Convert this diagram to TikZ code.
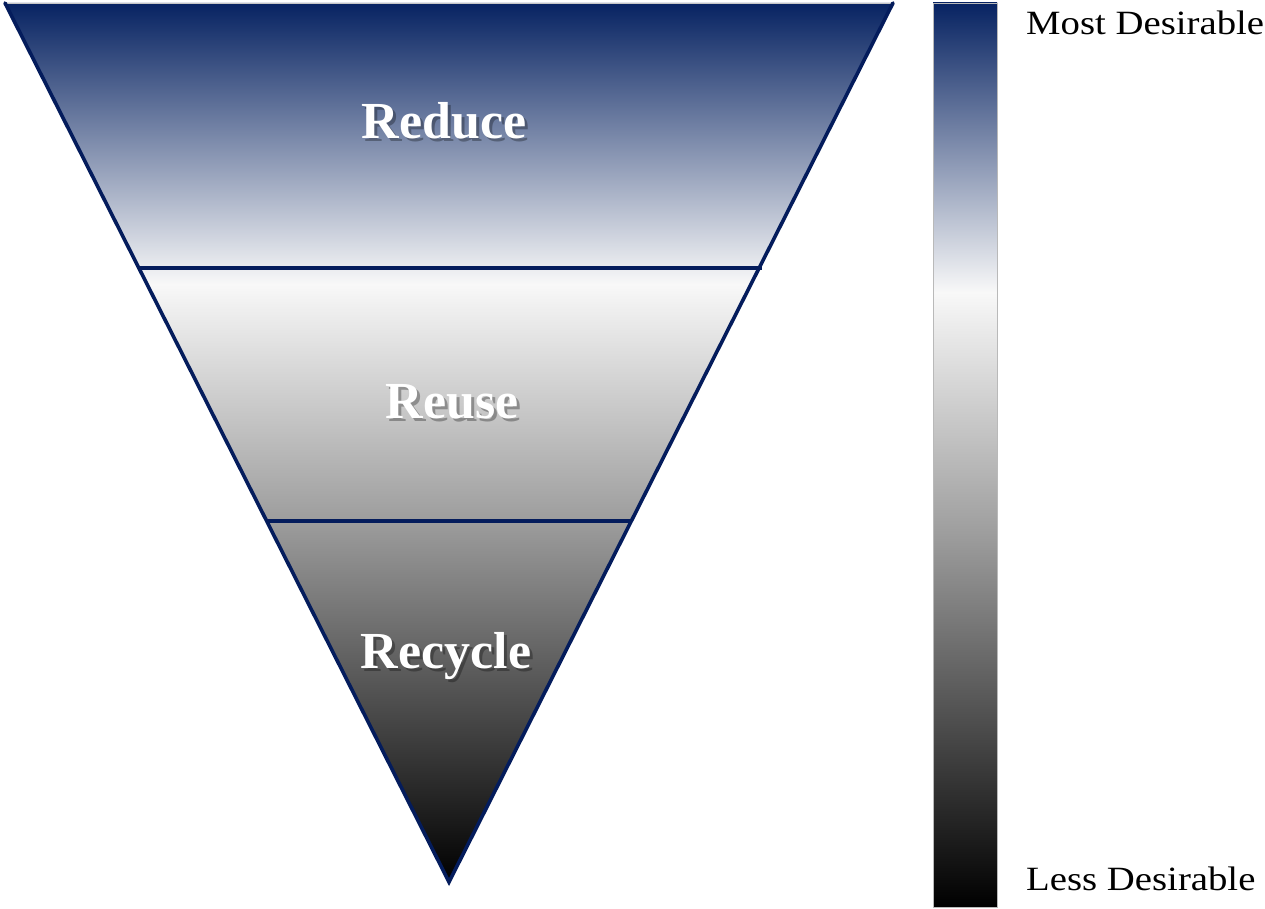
\documentclass[tikz,border=0pt]{standalone}
\usepackage{fontspec}
\setmainfont{Liberation Serif}
\newfontfamily\sidefont[FakeStretch=1.14]{Liberation Serif}
\usetikzlibrary{calc}
\definecolor{navyTop}{RGB}{7,35,98}
\definecolor{navyLine}{RGB}{4,28,92}
\definecolor{midGrey}{RGB}{160,160,160}
\definecolor{nearWhite}{RGB}{248,248,248}
\pgfdeclareverticalshading{desir}{100bp}{color(0bp)=(black); color(25bp)=(black); color(46bp)=(midGrey); color(59bp)=(nearWhite); color(75bp)=(navyTop); color(100bp)=(navyTop)}
\newcommand\shadowtext[1]{\makebox[0pt][l]{\hspace*{3pt}\raisebox{-3pt}{\begin{pgfscope}\pgfsetfillopacity{0.3}\color{black}#1\end{pgfscope}}}#1}
\tikzset{
  sideedge/.style={draw=navyLine, line width=3.6pt, line cap=round},
  divider/.style={draw=navyLine, line width=4.2pt},
  tierlabel/.style={anchor=base, text=white, font=\bfseries\fontsize{52}{60}\selectfont, inner sep=0pt},
  sidelabel/.style={anchor=base west, text=black, font=\sidefont\fontsize{34}{40}\selectfont, inner sep=0pt}
}
\begin{document}
\begin{tikzpicture}[x=1pt,y=-1pt]
\useasboundingbox[fill=white] (0,0) rectangle (1265,909);
\coordinate (tl) at (5,3);
\coordinate (tr) at (893,3);
\coordinate (ap) at (449,882);
\coordinate (d1l) at ($(tl)!265/879!(ap)$);
\coordinate (d1r) at ($(tr)!265/879!(ap)+(3,0)$);
\coordinate (d2l) at ($(tl)!518/879!(ap)$);
\coordinate (d2r) at ($(tr)!518/879!(ap)$);
% triangle fill
\path[shading=desir] (tl) -- (tr) -- (ap) -- cycle;
\draw[draw=gray!45, line width=0.8pt] (tl) -- (tr);
\draw[sideedge] (tl) -- (ap) -- (tr);
\draw[divider] (d1l) -- (d1r);
\draw[divider] (d2l) -- (d2r);
% tier labels with shadow
\node[tierlabel] (reduce) at (444,139) {\shadowtext{Reduce}};
\node[tierlabel] (reuse) at (452,418) {\shadowtext{Reuse}};
\node[tierlabel] (recycle) at (446,668) {\shadowtext{Recycle}};
% side bar
\path[shading=desir, draw=gray!55, line width=0.8pt] (933,3) rectangle (997,907);
\node[sidelabel] (most) at (1026,35) {Most Desirable};
\node[sidelabel] (less) at (1026,890) {Less Desirable};
\end{tikzpicture}
\end{document}
